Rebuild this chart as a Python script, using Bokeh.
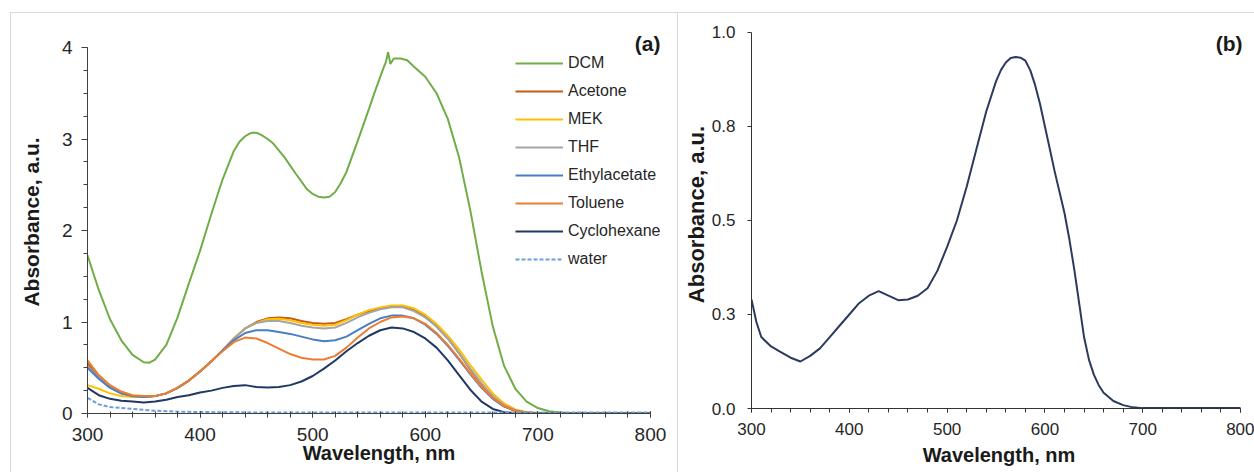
from bokeh.plotting import figure
from bokeh.layouts import row
from bokeh.models import Range1d, Label, FixedTicker, SingleIntervalTicker, PrintfTickFormatter
from bokeh.embed import file_html
from bokeh.resources import INLINE

# ---------------- Panel (a) data ----------------
dcm_wl = [300, 310, 320, 330, 340, 350, 355, 360, 370, 380,
          390, 400, 410, 420, 430, 435, 440, 444, 447, 451,
          455, 460, 465, 475, 485, 495, 500, 505, 510, 515,
          520, 525, 530, 540, 550, 555, 560, 563, 565, 567,
          569, 572, 578, 584, 590, 600, 610, 620, 630, 640,
          650, 660, 670, 680, 690, 700, 710, 720, 730, 750, 800]
dcm = [1.73, 1.35, 1.03, 0.80, 0.64, 0.56, 0.555, 0.59, 0.75, 1.05,
       1.42, 1.78, 2.18, 2.56, 2.87, 2.97, 3.03, 3.06, 3.07, 3.065,
       3.04, 3.00, 2.95, 2.80, 2.62, 2.45, 2.40, 2.37, 2.36, 2.37,
       2.42, 2.52, 2.64, 2.98, 3.33, 3.51, 3.68, 3.78, 3.84, 3.95,
       3.82, 3.88, 3.88, 3.86, 3.79, 3.68, 3.50, 3.22, 2.80, 2.22,
       1.55, 0.95, 0.52, 0.27, 0.13, 0.06, 0.025, 0.01, 0.004, 0.001, 0.0]

wl = [300, 310, 320, 330, 340, 350, 360, 370, 380, 390,
      400, 410, 420, 430, 440, 450, 460, 470, 480, 490,
      500, 510, 520, 530, 540, 550, 560, 570, 580, 590,
      600, 610, 620, 630, 640, 650, 660, 670, 680, 690,
      700, 710, 720, 740, 760, 780, 800]

acetone = [0.55, 0.40, 0.29, 0.22, 0.19, 0.18, 0.19, 0.22, 0.28, 0.36,
           0.46, 0.57, 0.69, 0.82, 0.93, 1.00, 1.04, 1.05, 1.04, 1.01,
           0.99, 0.98, 0.99, 1.03, 1.08, 1.12, 1.15, 1.17, 1.17, 1.13,
           1.06, 0.95, 0.82, 0.66, 0.48, 0.32, 0.18, 0.08, 0.03, 0.01,
           0.003, 0, 0, 0, 0, 0, 0]
mek = [0.31, 0.27, 0.22, 0.19, 0.18, 0.18, 0.19, 0.22, 0.28, 0.36,
       0.46, 0.57, 0.69, 0.82, 0.93, 0.99, 1.03, 1.035, 1.02, 0.99,
       0.97, 0.96, 0.97, 1.02, 1.08, 1.13, 1.16, 1.18, 1.18, 1.15,
       1.08, 0.98, 0.85, 0.70, 0.53, 0.37, 0.22, 0.11, 0.045, 0.015,
       0.005, 0.001, 0, 0, 0, 0, 0]
thf = [0.52, 0.39, 0.29, 0.22, 0.19, 0.18, 0.19, 0.22, 0.28, 0.36,
       0.46, 0.57, 0.69, 0.82, 0.93, 0.99, 1.01, 1.01, 0.99, 0.96,
       0.94, 0.93, 0.94, 0.99, 1.05, 1.10, 1.14, 1.16, 1.16, 1.12,
       1.05, 0.95, 0.82, 0.66, 0.49, 0.33, 0.19, 0.09, 0.035, 0.01,
       0.003, 0, 0, 0, 0, 0, 0]
ethylacetate = [0.50, 0.38, 0.28, 0.22, 0.19, 0.18, 0.19, 0.22, 0.28, 0.36,
                0.46, 0.57, 0.69, 0.80, 0.88, 0.91, 0.91, 0.89, 0.87, 0.84,
                0.81, 0.79, 0.80, 0.84, 0.91, 0.98, 1.04, 1.07, 1.07, 1.04,
                0.97, 0.87, 0.74, 0.59, 0.43, 0.28, 0.16, 0.075, 0.03, 0.01,
                0.003, 0, 0, 0, 0, 0, 0]
toluene = [0.58, 0.42, 0.31, 0.24, 0.20, 0.19, 0.19, 0.22, 0.28, 0.36,
           0.46, 0.57, 0.68, 0.78, 0.83, 0.82, 0.77, 0.71, 0.65, 0.61,
           0.59, 0.59, 0.63, 0.72, 0.83, 0.93, 1.00, 1.05, 1.06, 1.04,
           0.98, 0.88, 0.75, 0.60, 0.44, 0.29, 0.17, 0.08, 0.03, 0.01,
           0.003, 0, 0, 0, 0, 0, 0]
cyclohexane = [0.28, 0.20, 0.16, 0.14, 0.13, 0.12, 0.13, 0.15, 0.18, 0.20,
               0.23, 0.25, 0.28, 0.30, 0.31, 0.29, 0.285, 0.29, 0.31, 0.35,
               0.41, 0.49, 0.58, 0.68, 0.77, 0.85, 0.91, 0.94, 0.93, 0.89,
               0.82, 0.72, 0.58, 0.42, 0.26, 0.13, 0.05, 0.015, 0.003, 0,
               0, 0, 0, 0, 0, 0, 0]
water = [0.17, 0.10, 0.07, 0.06, 0.05, 0.04, 0.03, 0.025, 0.02, 0.018,
         0.016, 0.015, 0.014, 0.013, 0.012, 0.012, 0.011, 0.011, 0.01, 0.01,
         0.01, 0.01, 0.01, 0.01, 0.01, 0.01, 0.01, 0.01, 0.01, 0.01,
         0.01, 0.01, 0.01, 0.01, 0.01, 0.01, 0.01, 0.01, 0.01, 0.01,
         0.01, 0.01, 0.01, 0.01, 0.01, 0.01, 0.01]

# ---------------- Panel (b) data ----------------
wl_b = [300, 305, 310, 320, 330, 340, 350, 360, 370, 380,
        390, 400, 410, 420, 430, 440, 450, 460, 470, 480,
        490, 500, 510, 520, 530, 540, 550, 555, 560, 565,
        570, 575, 580, 585, 590, 595, 600, 605, 610, 615,
        620, 625, 630, 635, 640, 645, 650, 655, 660, 670,
        680, 690, 700, 720, 750, 800]
abs_b = [0.29, 0.23, 0.19, 0.165, 0.15, 0.135, 0.125, 0.14, 0.16, 0.19,
         0.22, 0.25, 0.28, 0.30, 0.312, 0.30, 0.288, 0.29, 0.30, 0.32,
         0.366, 0.43, 0.50, 0.59, 0.69, 0.79, 0.87, 0.90, 0.92, 0.932,
         0.935, 0.933, 0.925, 0.90, 0.86, 0.81, 0.75, 0.69, 0.63, 0.575,
         0.52, 0.45, 0.37, 0.28, 0.19, 0.13, 0.09, 0.062, 0.042, 0.02,
         0.009, 0.003, 0.001, 0.001, 0.001, 0.001]

y_ticks_b = [0, 0.25, 0.5, 0.75, 1.0]

FONT = "Liberation Sans"
TXT = "#262626"
AX = "#404040"
BORDER = "#d9d9d9"

# ---------------- Figure (a) ----------------
p1 = figure(width=678, height=472, x_range=Range1d(300, 817.8), y_range=Range1d(0, 4.186),
            output_backend="svg", toolbar_location=None,
            min_border_left=87, min_border_right=8, min_border_top=30, min_border_bottom=59)
p1.frame_align = False
p1.border_fill_color = None
p1.background_fill_color = None
p1.outline_line_color = None
p1.xgrid.visible = False
p1.ygrid.visible = False
g = "linear-gradient(%s,%s)" % (BORDER, BORDER)
p1.styles = {"background": (g + " 10px 12px / 1px 100% no-repeat, "
                            + g + " 10px 12px / 100% 1px no-repeat, "
                            + g + " right 0px top 12px / 1px 100% no-repeat")}

series = [
    (dcm_wl, dcm, "DCM", "#70AD47", "solid"),
    (wl, acetone, "Acetone", "#C55A11", "solid"),
    (wl, mek, "MEK", "#FFC000", "solid"),
    (wl, thf, "THF", "#A5A5A5", "solid"),
    (wl, ethylacetate, "Ethylacetate", "#4A7EC4", "solid"),
    (wl, toluene, "Toluene", "#ED7D31", "solid"),
    (wl, cyclohexane, "Cyclohexane", "#203864", "solid"),
    (wl, water, "water", "#6A9FD8", "4 2"),
]
for xs, ys, name, col, dash in series:
    p1.line(xs, ys, line_color=col, line_width=2, line_dash=dash, legend_label=name)

p1.xaxis.ticker = SingleIntervalTicker(interval=100, num_minor_ticks=5)
p1.yaxis.ticker = SingleIntervalTicker(interval=1, num_minor_ticks=4)
p1.xaxis.bounds = (300, 800)
p1.yaxis.bounds = (0, 4)
for ax in (p1.xaxis, p1.yaxis):
    ax.axis_line_color = AX
    ax.major_tick_line_color = AX
    ax.minor_tick_line_color = AX
    ax.major_label_text_font = FONT
    ax.major_label_text_color = TXT
    ax.axis_label_text_font = FONT
    ax.axis_label_text_color = "#1a1a1a"
    ax.axis_label_text_font_style = "bold"
p1.xaxis.major_tick_in = 2
p1.xaxis.major_tick_out = 4
p1.xaxis.minor_tick_in = 2
p1.xaxis.minor_tick_out = 4
p1.xaxis.major_label_text_font_size = "19px"
p1.xaxis.major_label_standoff = 10
p1.xaxis.axis_label = "Wavelength, nm"
p1.xaxis.axis_label_text_font_size = "20px"
p1.xaxis.axis_label_standoff = -2
p1.yaxis.major_tick_in = 0
p1.yaxis.major_tick_out = 6
p1.yaxis.minor_tick_in = 0
p1.yaxis.minor_tick_out = 4
p1.yaxis.major_label_text_font_size = "19px"
p1.yaxis.major_label_standoff = 9
p1.yaxis.axis_label = "Absorbance, a.u."
p1.yaxis.axis_label_text_font_size = "21px"
p1.yaxis.axis_label_standoff = 16

lg = p1.legend[0]
lg.location = (428, 144)
lg.glyph_width = 48
lg.glyph_height = 20
lg.label_height = 20
lg.spacing = 8
lg.padding = 0
lg.margin = 0
lg.label_standoff = 5
lg.border_line_color = None
lg.background_fill_alpha = 0
lg.label_text_font = FONT
lg.label_text_font_size = "16px"
lg.label_text_color = TXT

p1.add_layout(Label(x=808.9, y=4.044, text="(a)",
                    text_align="right", text_baseline="middle", text_font=FONT,
                    text_font_size="21px", text_font_style="bold", text_color="#1a1a1a"))

# ---------------- Figure (b) ----------------
p2 = figure(width=576, height=472, x_range=Range1d(300, 806.1), y_range=Range1d(0, 1.0319),
            output_backend="svg", toolbar_location=None,
            min_border_left=73, min_border_right=8, min_border_top=20, min_border_bottom=64)
p2.frame_align = False
p2.border_fill_color = None
p2.background_fill_color = None
p2.outline_line_color = None
p2.xgrid.visible = False
p2.ygrid.visible = False
p2.styles = {"background": g + " 0px 12px / 100% 1px no-repeat"}

p2.line(wl_b, abs_b, line_color="#2B3A5E", line_width=2)

p2.xaxis.ticker = SingleIntervalTicker(interval=100, num_minor_ticks=5)
p2.yaxis.ticker = FixedTicker(ticks=y_ticks_b)
p2.yaxis.formatter = PrintfTickFormatter(format="%.1f")
p2.xaxis.bounds = (300, 800)
p2.yaxis.bounds = (0, 1)
for ax in (p2.xaxis, p2.yaxis):
    ax.axis_line_color = "#333333"
    ax.major_tick_line_color = "#333333"
    ax.minor_tick_line_color = "#333333"
    ax.major_label_text_font = FONT
    ax.major_label_text_color = TXT
    ax.major_label_text_font_size = "17px"
    ax.axis_label_text_font = FONT
    ax.axis_label_text_color = "#1a1a1a"
    ax.axis_label_text_font_style = "bold"
p2.xaxis.major_tick_in = 0
p2.xaxis.major_tick_out = 4
p2.xaxis.minor_tick_in = 0
p2.xaxis.minor_tick_out = 4
p2.xaxis.major_label_standoff = 10
p2.xaxis.axis_label = "Wavelength, nm"
p2.xaxis.axis_label_text_font_size = "20px"
p2.xaxis.axis_label_standoff = 6
p2.yaxis.major_tick_in = 0
p2.yaxis.major_tick_out = 4
p2.yaxis.minor_tick_line_color = None
p2.yaxis.major_label_standoff = 12
p2.yaxis.axis_label = "Absorbance, a.u."
p2.yaxis.axis_label_text_font_size = "22px"
p2.yaxis.axis_label_standoff = 0

p2.add_layout(Label(x=802, y=0.971, text="(b)",
                    text_align="right", text_baseline="middle", text_font=FONT,
                    text_font_size="21px", text_font_style="bold", text_color="#1a1a1a"))

layout = row(p1, p2)
open("out.html", "w").write(file_html(layout, INLINE))
